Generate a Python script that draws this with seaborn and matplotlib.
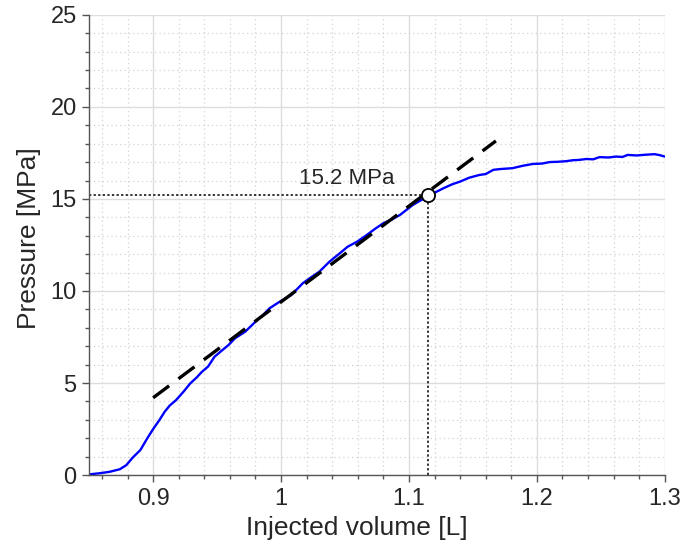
import matplotlib
matplotlib.use("Agg")
import matplotlib.pyplot as plt
import seaborn as sns
import pandas as pd
from matplotlib.ticker import MultipleLocator

volume = [0.850, 0.858, 0.866, 0.874, 0.879, 0.884, 0.890, 0.895, 0.900, 0.905,
          0.909, 0.913, 0.918, 0.924, 0.929, 0.934, 0.938, 0.943, 0.948, 0.954,
          0.959, 0.964, 0.972, 0.980, 0.986, 0.991, 0.999, 1.008, 1.017, 1.023,
          1.030, 1.038, 1.046, 1.052, 1.060, 1.067, 1.074, 1.080, 1.087, 1.093,
          1.103, 1.115, 1.127, 1.134, 1.140, 1.147, 1.155, 1.160, 1.166, 1.171,
          1.181, 1.189, 1.197, 1.204, 1.210, 1.217, 1.223, 1.228, 1.233, 1.239,
          1.244, 1.249, 1.256, 1.262, 1.267, 1.271, 1.278, 1.285, 1.292, 1.296,
          1.300]
pressure = [0.04, 0.10, 0.18, 0.32, 0.54, 0.95, 1.36, 1.95, 2.50, 3.00,
            3.44, 3.78, 4.08, 4.55, 4.98, 5.30, 5.60, 5.90, 6.43, 6.78,
            7.07, 7.43, 7.79, 8.33, 8.70, 9.06, 9.42, 9.78, 10.42, 10.72,
            11.05, 11.60, 12.05, 12.40, 12.70, 13.04, 13.40, 13.68, 13.90, 14.13,
            14.67, 15.16, 15.58, 15.80, 15.94, 16.15, 16.30, 16.35, 16.58, 16.62,
            16.67, 16.80, 16.90, 16.92, 17.00, 17.02, 17.05, 17.10, 17.12, 17.17,
            17.15, 17.27, 17.25, 17.30, 17.28, 17.39, 17.36, 17.40, 17.43, 17.38,
            17.30]

fit_x = [0.900, 1.168]
fit_y = [4.20, 18.15]

yield_x = 1.115
yield_y = 15.2
yield_label = "15.2 MPa"

df = pd.DataFrame({"volume": volume, "pressure": pressure})
fit_df = pd.DataFrame({"volume": fit_x, "pressure": fit_y})

sns.set_style("white")
plt.rcParams["font.family"] = ["Liberation Sans", "DejaVu Sans"]

fig = plt.figure(figsize=(6.86, 5.48), dpi=100)
ax = fig.add_axes([0.130, 0.133, 0.839, 0.840])

ax.set_xlim(0.85, 1.3)
ax.set_ylim(0, 25)
ax.xaxis.set_major_locator(MultipleLocator(0.1))
ax.xaxis.set_minor_locator(MultipleLocator(0.02))
ax.yaxis.set_major_locator(MultipleLocator(5))
ax.yaxis.set_minor_locator(MultipleLocator(1))
ax.set_xticks([0.9, 1.0, 1.1, 1.2, 1.3])
ax.set_xticklabels(["0.9", "1", "1.1", "1.2", "1.3"])

ax.grid(which="major", color="#dddddd", linewidth=1.0, linestyle="-")
ax.grid(which="minor", color="#d2d2d2", linewidth=0.9, linestyle=(0, (1, 2.5)))
ax.set_axisbelow(True)

sns.lineplot(data=df, x="volume", y="pressure", ax=ax, color="#0000ff",
             linewidth=1.7, clip_on=True)
sns.lineplot(data=fit_df, x="volume", y="pressure", ax=ax, color="black",
             linewidth=2.4, dashes=False, linestyle=(0, (6, 3.5)))

ax.plot([0.85, yield_x], [yield_y, yield_y], color="black", linewidth=1.1,
        linestyle=(0, (1.5, 1.5)))
ax.plot([yield_x, yield_x], [0, yield_y], color="black", linewidth=1.1,
        linestyle=(0, (1.5, 1.5)))
ax.plot([yield_x], [yield_y], marker="o", markersize=9.5, markerfacecolor="white",
        markeredgecolor="black", markeredgewidth=1.3, zorder=5)
ax.text(1.089, 16.1, yield_label, ha="right", va="center", fontsize=16,
        color="#262626")

for s in ["top", "right"]:
    ax.spines[s].set_visible(False)
for s in ["left", "bottom"]:
    ax.spines[s].set_color("#555555")
    ax.spines[s].set_linewidth(1.0)

ax.tick_params(which="major", direction="out", length=5, width=1, color="#555555",
               labelsize=17, labelcolor="#262626", left=True, bottom=True, pad=4)
ax.tick_params(which="minor", direction="out", length=3, width=1, color="#555555",
               left=True, bottom=True)

ax.set_xlabel("Injected volume [L]", fontsize=19, color="#262626")
ax.set_ylabel("Pressure [MPa]", fontsize=19, color="#262626")
ax.xaxis.set_label_coords(0.465, -0.088)
ax.yaxis.set_label_coords(-0.083, 0.515)

fig.savefig("out.png", dpi=100)
